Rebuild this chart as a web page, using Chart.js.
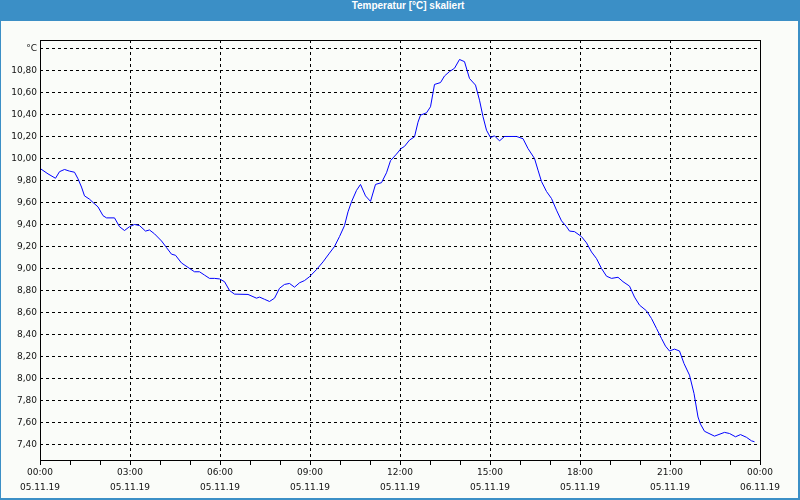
<!DOCTYPE html>
<html>
<head>
<meta charset="utf-8">
<script src="https://cdn.jsdelivr.net/npm/chart.js@4/dist/chart.umd.min.js"></script>
<style>
  body { margin: 0; }
  #frame { position: relative; width: 800px; height: 500px; background: #3b8fc6; overflow: hidden; }
  #title { position: absolute; left: 0; top: 0; width: 800px; height: 21px; line-height: 20px;
           color: #fff; font: bold 10px "Liberation Sans", sans-serif; text-align: center; padding-left: 16px; box-sizing: border-box; }
  #inner { position: absolute; left: 1px; top: 21px; width: 797px; height: 477px; background: #fafcf9; }
  #myChart { position: absolute; left: 0; top: 0; }
</style>
</head>
<body>
<div id="frame">
  <div id="title">Temperatur [°C] skaliert</div>
  <div id="inner"></div>
  <canvas id="myChart" width="800" height="500"></canvas>
</div>
<script>
// minutes since 05.11.19 00:00
var times = [0, 16, 31, 39, 49, 59, 69, 76, 83, 89, 99, 106, 116, 126, 133, 149, 159, 169, 179, 189,
  199, 211, 219, 229, 243, 253, 263, 271, 283, 296, 309, 319, 329, 339, 349, 359,
  369, 379, 389, 416, 433, 439, 449, 459, 469, 479, 489, 499, 509, 519, 529, 539,
  553, 566, 579, 589, 599, 609, 616, 623, 633, 641, 651, 661, 671, 683, 693, 701, 713,
  722, 729, 739, 749, 756, 761, 773, 781, 789, 801, 809, 819, 829, 839, 849, 859, 871,
  879, 886, 893, 901, 909, 919, 929, 953, 966, 976, 989, 996, 1003, 1013, 1023, 1033,
  1043, 1053, 1059, 1069, 1083, 1093, 1103, 1113, 1123, 1133, 1143, 1156, 1166, 1179,
  1189, 1199, 1213, 1223, 1233, 1243, 1251, 1259, 1269, 1279, 1288, 1299, 1308, 1316,
  1321, 1329, 1349, 1369, 1379, 1391, 1401, 1413, 1423, 1429];
var temps = [9.91, 9.86, 9.82, 9.88, 9.90, 9.885, 9.875, 9.815, 9.74, 9.66, 9.63, 9.60, 9.56, 9.48, 9.46, 9.46, 9.38, 9.345, 9.38, 9.40,
  9.39, 9.34, 9.35, 9.315, 9.25, 9.19, 9.13, 9.12, 9.05, 9.01, 8.97, 8.97, 8.94, 8.91, 8.91, 8.905,
  8.88, 8.80, 8.767, 8.764, 8.73, 8.74, 8.72, 8.70, 8.73, 8.82, 8.855, 8.864, 8.83, 8.87, 8.89, 8.925,
  8.99, 9.06, 9.14, 9.20, 9.29, 9.39, 9.515, 9.606, 9.71, 9.764, 9.66, 9.61, 9.764, 9.78, 9.87, 9.98, 10.04,
  10.09, 10.11, 10.167, 10.197, 10.33, 10.394, 10.415, 10.47, 10.673, 10.69, 10.75, 10.79, 10.82, 10.90, 10.88, 10.727, 10.667,
  10.53, 10.38, 10.257, 10.19, 10.206, 10.16, 10.20, 10.20, 10.18, 10.09, 10.00, 9.894, 9.79, 9.70, 9.636, 9.53,
  9.433, 9.38, 9.34, 9.335, 9.29, 9.233, 9.15, 9.09, 9.00, 8.93, 8.91, 8.92, 8.88, 8.84,
  8.74, 8.667, 8.615, 8.545, 8.455, 8.364, 8.294, 8.25, 8.267, 8.25, 8.136, 8.03, 7.864, 7.65,
  7.585, 7.52, 7.476, 7.51, 7.50, 7.47, 7.49, 7.465, 7.433, 7.425];

var xTickTimes = ["00:00", "03:00", "06:00", "09:00", "12:00", "15:00", "18:00", "21:00", "00:00"];
var xTickDates = ["05.11.19", "05.11.19", "05.11.19", "05.11.19", "05.11.19", "05.11.19", "05.11.19", "05.11.19", "06.11.19"];
var yTicks = [7.4, 7.6, 7.8, 8.0, 8.2, 8.4, 8.6, 8.8, 9.0, 9.2, 9.4, 9.6, 9.8, 10.0, 10.2, 10.4, 10.6, 10.8, 11.0];

var points = times.map((t, i) => ({ x: t, y: temps[i] }));
var tickFont = { family: "DejaVu Sans", size: 9, lineHeight: '15px' };

// frame round the plot area
var framePlugin = {
  id: 'frame',
  afterDraw(chart) {
    let a = chart.chartArea, ctx = chart.ctx;
    ctx.save();
    ctx.strokeStyle = '#000';
    ctx.lineWidth = 1;
    ctx.strokeRect(Math.round(a.left) + 0.5, Math.round(a.top) + 0.5, Math.round(a.right - a.left), Math.round(a.bottom - a.top));
    ctx.restore();
  }
};

new Chart("myChart", {
  type: "line",
  data: {
    datasets: [{
      data: points,
      borderColor: "#0000ff",
      borderWidth: 1,
      pointRadius: 0,
      tension: 0,
      fill: false
    }]
  },
  options: {
    responsive: false,
    animation: false,
    layout: { padding: { top: 40, right: 40, left: 0, bottom: 0 } },
    plugins: { legend: { display: false }, tooltip: { enabled: false } },
    scales: {
      x: {
        type: 'linear',
        min: 0,
        max: 1440,
        afterFit: s => { s.height = 40; },
        border: { display: false, dash: [3, 3] },
        grid: {
          color: c => (c.tick && c.tick.value % 180 === 0 && c.tick.value > 0 && c.tick.value < 1440) ? '#000' : 'rgba(0,0,0,0)',
          tickColor: '#000',
          tickBorderDash: [],
          tickLength: 5,
          drawTicks: true
        },
        ticks: {
          stepSize: 60,
          autoSkip: false,
          maxRotation: 0,
          padding: 0,
          color: '#111',
          font: tickFont,
          callback: v => v % 180 === 0 ? [xTickTimes[v / 180], xTickDates[v / 180]] : ''
        }
      },
      y: {
        min: 7.259,
        max: 11.077,
        afterFit: s => { s.width = 40; },
        afterBuildTicks: axis => { axis.ticks = yTicks.map(v => ({ value: v })); },
        border: { display: false, dash: [3, 3] },
        grid: {
          color: '#000',
          drawTicks: false
        },
        ticks: {
          padding: 3,
          color: '#111',
          font: { family: "DejaVu Sans", size: 9 },
          callback: v => Math.abs(v - 11) < 0.001 ? '°C' : v.toFixed(2).replace('.', ',')
        }
      }
    }
  },
  plugins: [framePlugin]
});
</script>
</body>
</html>
